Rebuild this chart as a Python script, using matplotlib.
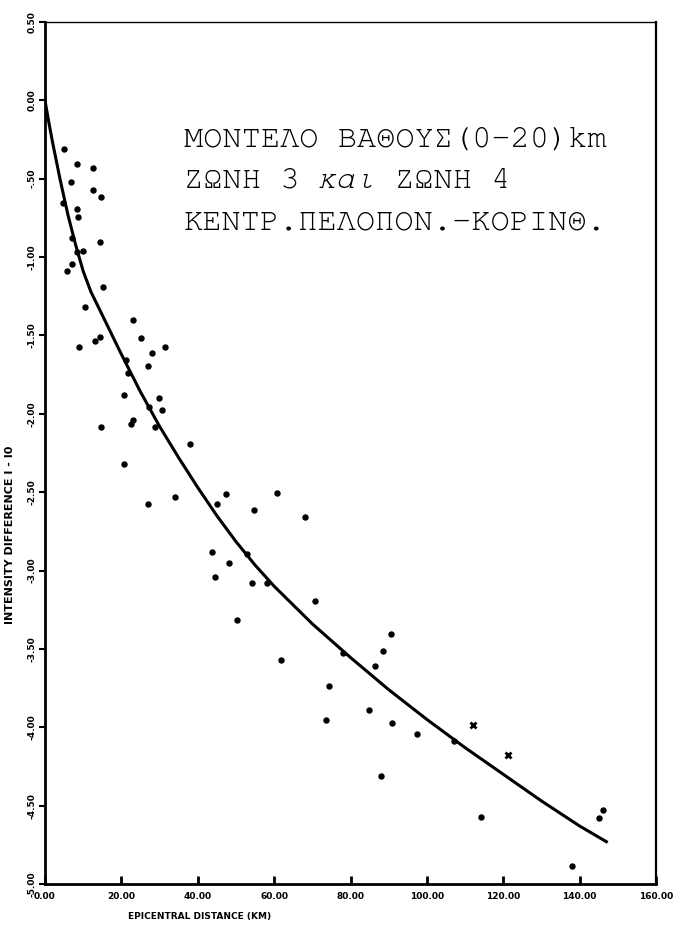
import numpy as np
from matplotlib import pyplot as plt

# observed points (epicentral distance km, I - I0)
dist = [4.97, 8.30, 12.49, 6.81, 12.49, 14.58, 4.79, 8.46, 8.64, 14.40,
        7.07, 8.46, 9.87, 7.07, 5.84, 15.10, 10.55, 22.96, 25.21, 14.40,
        13.09, 8.82, 28.01, 31.41, 27.04, 21.20, 21.81, 20.68, 29.92, 27.23,
        30.63, 22.96, 22.43, 28.93, 14.66, 37.96, 20.73, 34.03, 47.38, 44.95,
        26.88, 60.81, 54.71, 68.14, 43.72, 48.25, 44.58, 54.11, 58.19, 52.80,
        70.68, 50.34, 90.50, 88.40, 86.39, 61.78, 78.01, 74.42, 84.82, 73.48,
        90.92, 97.38, 87.88, 107.07, 114.14, 146.15, 145.11, 138.04]
diff = [-0.312, -0.404, -0.429, -0.518, -0.571, -0.614, -0.656, -0.695, -0.746, -0.903,
        -0.878, -0.967, -0.959, -1.043, -1.086, -1.188, -1.316, -1.404, -1.517, -1.513,
        -1.533, -1.575, -1.613, -1.575, -1.698, -1.659, -1.740, -1.882, -1.901, -1.959,
        -1.974, -2.038, -2.066, -2.086, -2.086, -2.193, -2.317, -2.533, -2.513, -2.574,
        -2.578, -2.506, -2.614, -2.659, -2.882, -2.950, -3.040, -3.082, -3.080, -2.895,
        -3.197, -3.318, -3.405, -3.516, -3.612, -3.573, -3.524, -3.739, -3.892, -3.953,
        -3.973, -4.041, -4.313, -4.090, -4.572, -4.530, -4.577, -4.883]

# the two points drawn with an x
dist_x = [112.12, 121.28]
diff_x = [-3.985, -4.175]

# fitted attenuation curve
curve_d = [0, 1, 2, 4, 6, 8, 10, 12, 15, 20, 25, 30, 35, 40, 45, 50, 55, 60, 70, 80,
           90, 100, 110, 120, 130, 140, 147]
curve_i = [0, -0.14, -0.27, -0.51, -0.73, -0.92, -1.09, -1.22, -1.37, -1.62,
           -1.86, -2.08, -2.28, -2.47, -2.65, -2.815, -2.965, -3.10, -3.34, -3.555,
           -3.76, -3.95, -4.13, -4.30, -4.47, -4.63, -4.73]

xticks = [0, 20, 40, 60, 80, 100, 120, 140, 160]
xlabels = ['0.00', '20.00', '40.00', '60.00', '80.00', '100.00', '120.00', '140.00', '160.00']
yticks = [0.5, 0, -0.5, -1, -1.5, -2, -2.5, -3, -3.5, -4, -4.5, -5]
ylabels = ['0.50', '0.00', '-.50', '-1.00', '-1.50', '-2.00', '-2.50', '-3.00',
           '-3.50', '-4.00', '-4.50', '-5.00']

fig = plt.figure(figsize=(6.89, 9.26), dpi=100)
ax = fig.add_axes([45/689, 1 - 884/926, 611/689, 862/926])

ax.plot(curve_d, curve_i, color='black', lw=2.2, solid_joinstyle='round')
ax.plot(dist, diff, 'o', color='black', ms=3.6, ls='none')
ax.plot(dist_x, diff_x, 'x', color='black', ms=5, mew=2, ls='none')

ax.set_xlim(0, 160)
ax.set_ylim(-5, 0.5)
ax.set_xticks(xticks)
ax.set_xticklabels(xlabels, fontsize=6.5, fontweight='bold')
ax.set_yticks(yticks)
ax.set_yticklabels(ylabels, fontsize=6.5, fontweight='bold', rotation=90, va='center')
ax.tick_params(axis='x', direction='in', length=6, width=2, pad=6)
ax.tick_params(axis='y', direction='out', length=4, width=1.5, pad=2)

ax.spines['left'].set_linewidth(2)
ax.spines['bottom'].set_linewidth(2)
ax.spines['right'].set_linewidth(1.6)
ax.spines['top'].set_linewidth(1.0)

fig.text(200/689, 1 - 917/926, 'EPICENTRAL DISTANCE (KM)', fontsize=6.5,
         fontweight='bold', ha='center', va='center')
fig.text(10/689, 1 - 535/926, 'INTENSITY DIFFERENCE I - I0', fontsize=8,
         fontweight='bold', rotation=90, ha='center', va='center')

# typewriter text in the upper right
mono = ['FreeMono', 'DejaVu Sans Mono']
fs = 23
cw = fs * 0.6 * 100 / 72 / 689   # width of one monospace character, figure units
x0 = 184/689
fig.text(x0, 1 - 140/926, 'ΜΟΝΤΕΛΟ ΒΑΘΟΥΣ(0-20)km', fontsize=fs,
         family=mono, va='center')
fig.text(x0, 1 - 181/926, 'ΖΩΝΗ 3', fontsize=fs, family=mono, va='center')
fig.text(x0 + 7*cw, 1 - 181/926, 'και', fontsize=fs, family=mono,
         style='italic', va='center')
fig.text(x0 + 11*cw, 1 - 181/926, 'ΖΩΝΗ 4', fontsize=fs, family=mono,
         va='center')
fig.text(x0, 1 - 222/926, 'ΚΕΝΤΡ.ΠΕΛΟΠΟΝ.-ΚΟΡΙΝΘ.', fontsize=fs,
         family=mono, va='center')

fig.savefig('out.png', dpi=100)
